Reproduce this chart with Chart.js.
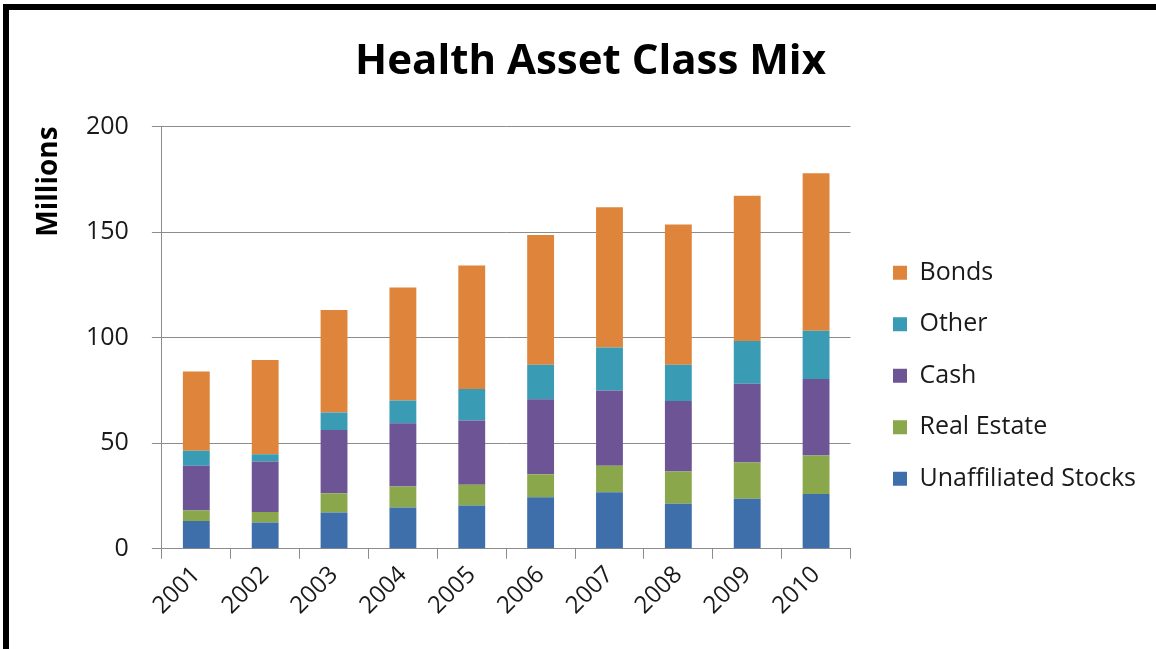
<!DOCTYPE html>
<html>
<head>
<meta charset="utf-8">
<script src="https://cdn.jsdelivr.net/npm/chart.js@4/dist/chart.umd.min.js"></script>
<style>
  html, body { margin: 0; padding: 0; background: #fff; }
  #wrap { position: relative; width: 1156px; height: 649px; }
  #frame {
    position: absolute; left: 3px; top: 4px; right: 0; bottom: 0;
    border-top: 6px solid #000; border-left: 6px solid #000;
    pointer-events: none;
  }
</style>
</head>
<body>
<div id="wrap">
  <canvas id="assetChart" width="1156" height="649"></canvas>
  <div id="frame"></div>
</div>
<script>
// Data (millions)
const years = ['2001', '2002', '2003', '2004', '2005', '2006', '2007', '2008', '2009', '2010'];
const unaffiliatedStocks = [13.2, 12.5, 17.2, 19.6, 20.5, 24.4, 26.8, 21.3, 23.7, 26.0];
const realEstate = [4.9, 4.9, 9.1, 9.9, 9.8, 10.9, 12.5, 15.3, 17.2, 18.2];
const cash = [21.2, 23.9, 30.0, 30.0, 30.4, 35.5, 35.6, 33.4, 37.2, 36.2];
const other = [7.1, 3.5, 8.2, 10.7, 15.0, 16.3, 20.4, 17.1, 20.3, 22.8];
const bonds = [37.5, 44.6, 48.6, 53.5, 58.4, 61.5, 66.4, 66.5, 68.8, 74.6];
const yTicks = [0, 50, 100, 150, 200];

const font = "'Open Sans', Lato, sans-serif";

function series(label, data, color) {
    return {
        label: label,
        data: data,
        backgroundColor: color,
        borderWidth: 0,
        barPercentage: 0.39,
        categoryPercentage: 1.0
    };
}

const ctx = document.getElementById('assetChart').getContext('2d');

new Chart(ctx, {
    type: 'bar',
    data: {
        labels: years,
        datasets: [
            series('Unaffiliated Stocks', unaffiliatedStocks, '#3f6fab'),
            series('Real Estate', realEstate, '#8aa84b'),
            series('Cash', cash, '#6d5494'),
            series('Other', other, '#3a9bb4'),
            series('Bonds', bonds, '#de843b')
        ]
    },
    options: {
        responsive: false,
        animation: false,
        layout: {
            padding: { left: 35, right: 10, top: 37, bottom: 27 }
        },
        scales: {
            x: {
                stacked: true,
                grid: {
                    offset: true,
                    drawOnChartArea: false,
                    color: '#8c8c8c',
                    tickLength: 10
                },
                border: { color: '#8c8c8c' },
                ticks: {
                    minRotation: 45,
                    maxRotation: 45,
                    color: '#1a1a1a',
                    font: { family: font, size: 24 },
                    padding: 2
                }
            },
            y: {
                stacked: true,
                min: 0,
                max: 200,
                afterBuildTicks: function(axis) {
                    axis.ticks = yTicks.map(v => ({ value: v }));
                },
                grid: {
                    color: '#8c8c8c',
                    tickLength: 10
                },
                border: { color: '#8c8c8c' },
                ticks: {
                    color: '#1a1a1a',
                    font: { family: font, size: 25 },
                    padding: 23
                },
                title: {
                    display: true,
                    text: 'Millions',
                    align: 'end',
                    color: '#000',
                    font: { family: font, size: 28, weight: 'bold', lineHeight: 1.0 },
                    padding: { top: 0, bottom: 0 }
                }
            },
            // empty spacer between plot area and legend
            gap: {
                position: 'right',
                display: true,
                grid: { display: false },
                border: { display: false },
                ticks: { display: false },
                afterFit: function(scale) { scale.width = 16; }
            }
        },
        plugins: {
            title: {
                display: true,
                text: 'Health Asset Class Mix',
                color: '#000',
                font: { family: font, size: 42, weight: 'bold' },
                padding: { top: 0, bottom: 39 }
            },
            legend: {
                position: 'right',
                reverse: true,
                maxWidth: 320,
                title: {
                    display: true,
                    text: ' ',
                    padding: 39
                },
                labels: {
                    boxWidth: 14,
                    boxHeight: 14,
                    padding: 26.5,
                    color: '#1a1a1a',
                    font: { family: font, size: 25 }
                }
            },
            tooltip: { enabled: false }
        }
    }
});
</script>
</body>
</html>
